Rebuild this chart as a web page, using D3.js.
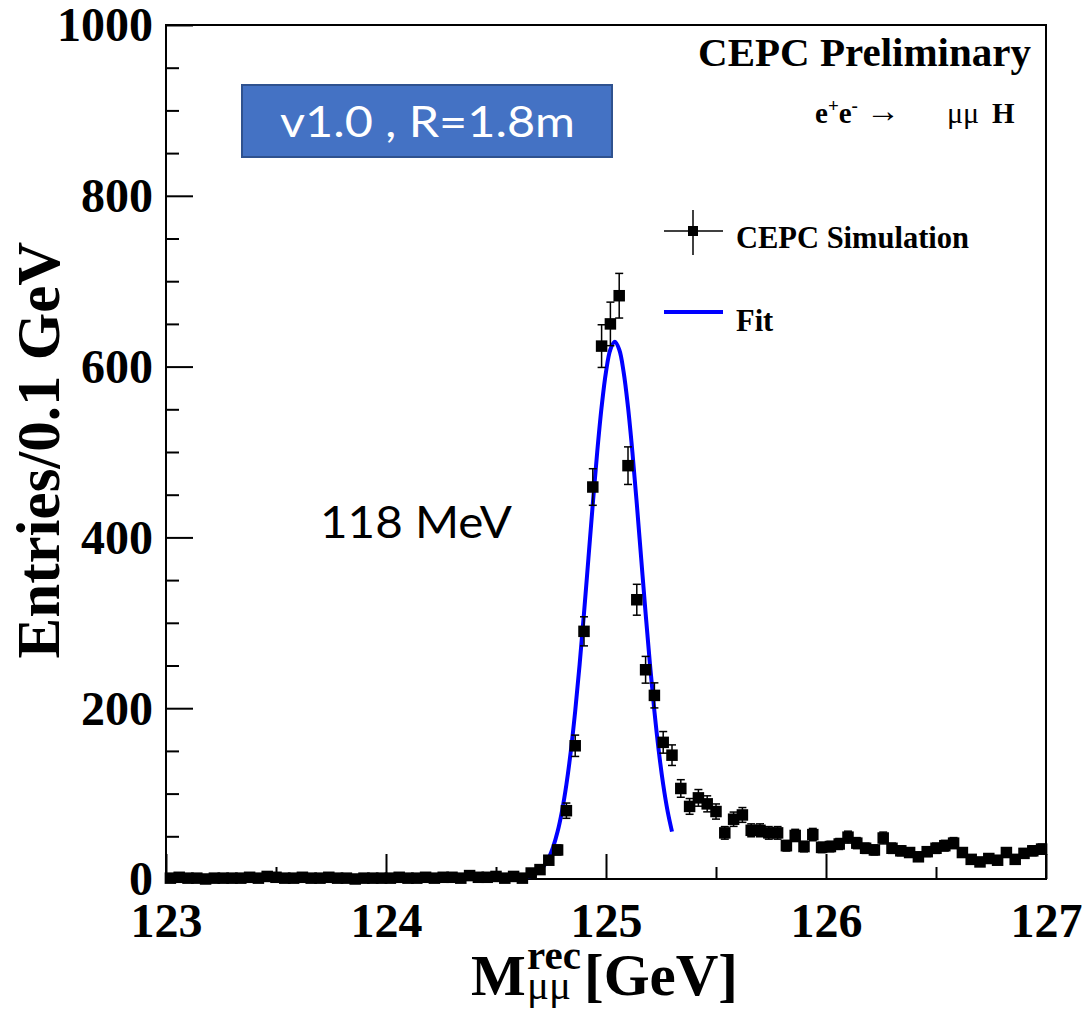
<!DOCTYPE html>
<html>
<head>
<meta charset="UTF-8">
<script src="https://d3js.org/d3.v7.min.js"></script>
<style>
  body { margin: 0; background: #fff; }
  svg { display: block; }
  .serif { font-family: "Liberation Serif", "Times New Roman", serif; font-weight: bold; }
  .sans { font-family: "Lato", "Open Sans", sans-serif; }
</style>
</head>
<body>
<svg id="chart" width="1087" height="1015"></svg>
<script>
// histogram: 100 bins of 0.04 GeV between 123 and 127
const xMin = 123, xMax = 127, binWidth = 0.04;
const entries = [
  1, 2, 1, 1, 0, 1, 1, 1, 1, 2,
  1, 3, 2, 1, 1, 2, 1, 1, 2, 1,
  1, 0, 1, 1, 1, 1, 2, 1, 1, 2,
  1, 2, 2, 1, 4, 2, 2, 3, 1, 3,
  1, 7, 11, 22, 34, 80, 156, 290, 459, 624,
  650, 683, 484, 327, 245, 215, 160, 145, 106, 85,
  95, 88, 79, 54, 70, 75, 57, 57, 54, 54,
  39, 51, 38, 52, 37, 38, 41, 49, 42, 36,
  34, 48, 36, 33, 31, 26, 32, 36, 39, 42,
  31, 23, 20, 24, 22, 31, 23, 30, 33, 35
];

// fit curve
const fitX = [124.60, 124.62, 124.64, 124.66, 124.68, 124.70, 124.72, 124.74, 124.76, 124.78,
              124.80, 124.82, 124.84, 124.86, 124.88, 124.90, 124.92, 124.94, 124.96, 124.98,
              125.00, 125.02, 125.04, 125.06, 125.08, 125.10, 125.12, 125.14, 125.16, 125.18,
              125.20, 125.22, 125.24, 125.26, 125.28, 125.30];
const fitY = [0.6, 1.1, 2.0, 3.5, 6.0, 9.9, 15.9, 24.8, 37.7, 55.5,
              79.5, 110.6, 149.6, 196.6, 250.9, 311.2, 375.1, 439.3, 499.8, 552.6,
              593.9, 620.0, 629.0, 620.0, 593.9, 552.6, 499.8, 439.3, 375.1, 311.2,
              250.9, 196.6, 149.6, 110.6, 79.5, 55.5];

const xTicks = [123, 124, 125, 126, 127];
const xMinorTicks = [123.5, 124.5, 125.5, 126.5];
const yTicks = [0, 200, 400, 600, 800, 1000];
const yMinorTicks = [50, 100, 150, 250, 300, 350, 450, 500, 550, 650, 700, 750, 850, 900, 950];

const margin = {left: 166, top: 25, right: 1046, bottom: 879};

const svg = d3.select("#chart");

const x = d3.scaleLinear().domain([xMin, xMax]).range([margin.left, margin.right]);
const y = d3.scaleLinear().domain([0, 1000]).range([margin.bottom, margin.top]);

// frame
svg.append("rect")
  .attr("x", margin.left).attr("y", margin.top)
  .attr("width", margin.right - margin.left)
  .attr("height", margin.bottom - margin.top)
  .attr("fill", "none").attr("stroke", "#000").attr("stroke-width", 2);

// axes (ticks pointing inward)
const xAxis = svg.append("g")
  .attr("transform", `translate(0,${margin.bottom})`)
  .call(d3.axisBottom(x).tickValues(xTicks).tickSize(-25).tickPadding(24).tickFormat(d3.format("d")));
svg.append("g")
  .attr("transform", `translate(0,${margin.bottom})`)
  .call(d3.axisBottom(x).tickValues(xMinorTicks).tickSize(-12).tickFormat(""))
  .call(g => g.select(".domain").remove());

const yAxis = svg.append("g")
  .attr("transform", `translate(${margin.left},0)`)
  .call(d3.axisLeft(y).tickValues(yTicks).tickSize(-27).tickPadding(13).tickFormat(d3.format("d")));
svg.append("g")
  .attr("transform", `translate(${margin.left},0)`)
  .call(d3.axisLeft(y).tickValues(yMinorTicks).tickSize(-13).tickFormat(""))
  .call(g => g.select(".domain").remove());

[xAxis, yAxis].forEach(g => {
  g.select(".domain").remove();
  g.selectAll(".tick text")
    .attr("class", "serif")
    .style("font-size", "48px")
    .attr("fill", "#000");
});
yAxis.selectAll(".tick text").attr("dy", "0.33em");
svg.selectAll(".tick line").attr("stroke", "#000").attr("stroke-width", 2);

// fit line
const line = d3.line()
  .x((d, i) => x(fitX[i]))
  .y(d => y(d))
  .curve(d3.curveCatmullRom);

svg.append("path")
  .datum(fitY)
  .attr("d", line)
  .attr("fill", "none")
  .attr("stroke", "#0000ff")
  .attr("stroke-width", 4);

// data points with sqrt(N) error bars
const bins = entries.map((v, i) => ({c: xMin + (i + 0.5) * binWidth, v: v, e: Math.sqrt(v)}));

const pts = svg.append("g");
pts.selectAll("line.err")
  .data(bins)
  .enter().append("line")
  .attr("x1", d => x(d.c)).attr("x2", d => x(d.c))
  .attr("y1", d => y(d.v - d.e)).attr("y2", d => y(d.v + d.e))
  .attr("stroke", "#000").attr("stroke-width", 1.5);

["lo", "hi"].forEach(k => {
  pts.selectAll("line.cap" + k)
    .data(bins)
    .enter().append("line")
    .attr("x1", d => x(d.c) - 4).attr("x2", d => x(d.c) + 4)
    .attr("y1", d => y(k === "lo" ? d.v - d.e : d.v + d.e))
    .attr("y2", d => y(k === "lo" ? d.v - d.e : d.v + d.e))
    .attr("stroke", "#000").attr("stroke-width", 1.5);
});

const ms = 11.5;
pts.selectAll("rect")
  .data(bins)
  .enter().append("rect")
  .attr("x", d => x(d.c) - ms / 2)
  .attr("y", d => y(d.v) - ms / 2)
  .attr("width", ms).attr("height", ms)
  .attr("fill", "#000");

// axis titles
svg.append("text")
  .attr("class", "serif")
  .attr("transform", "translate(59,450) rotate(-90)")
  .attr("text-anchor", "middle")
  .style("font-size", "61px")
  .text("Entries/0.1 GeV");

svg.append("text").attr("class", "serif")
  .attr("x", 471).attr("y", 995).style("font-size", "58px")
  .text("M");
svg.append("text").attr("class", "serif")
  .attr("x", 527).attr("y", 969).style("font-size", "41px")
  .text("rec");
svg.append("text").attr("class", "serif")
  .attr("x", 527).attr("y", 999).style("font-size", "41px").style("font-weight", "normal")
  .text("μμ");
svg.append("text").attr("class", "serif")
  .attr("x", 584).attr("y", 995).style("font-size", "59px")
  .text("[GeV]");

// top right labels
svg.append("text").attr("class", "serif")
  .attr("x", 1031).attr("y", 66)
  .attr("text-anchor", "end")
  .style("font-size", "41px")
  .text("CEPC Preliminary");

const proc = svg.append("text").attr("class", "serif").attr("y", 123).style("font-size", "29px");
proc.append("tspan").attr("x", 815).text("e");
proc.append("tspan").attr("dy", -11).style("font-size", "19px").text("+");
proc.append("tspan").attr("dy", 11).text("e");
proc.append("tspan").attr("dy", -11).style("font-size", "19px").text("-");
svg.append("text").attr("class", "serif").attr("x", 866).attr("y", 122)
  .style("font-size", "34px").style("font-weight", "normal").text("→");
svg.append("text").attr("class", "serif").attr("x", 947).attr("y", 123)
  .style("font-size", "30px").style("font-weight", "normal").text("μμ");
svg.append("text").attr("class", "serif").attr("x", 992).attr("y", 123)
  .style("font-size", "29px").text("H");

// legend
const lg = svg.append("g");
lg.append("line").attr("x1", 664).attr("x2", 723).attr("y1", 231).attr("y2", 231)
  .attr("stroke", "#000").attr("stroke-width", 1.5);
lg.append("line").attr("x1", 693).attr("x2", 693).attr("y1", 210).attr("y2", 255)
  .attr("stroke", "#000").attr("stroke-width", 1.5);
lg.append("rect").attr("x", 688).attr("y", 226).attr("width", 10).attr("height", 10).attr("fill", "#000");
lg.append("text").attr("class", "serif").attr("x", 736).attr("y", 248)
  .style("font-size", "30.5px").text("CEPC Simulation");
lg.append("line").attr("x1", 664).attr("x2", 723).attr("y1", 312).attr("y2", 312)
  .attr("stroke", "#0000ff").attr("stroke-width", 4);
lg.append("text").attr("class", "serif").attr("x", 736).attr("y", 331)
  .style("font-size", "30.5px").text("Fit");

// annotation box
svg.append("rect")
  .attr("x", 242).attr("y", 85).attr("width", 370).attr("height", 72)
  .attr("fill", "#4472c4").attr("stroke", "#2f528f").attr("stroke-width", 2);
svg.append("text").attr("class", "sans")
  .attr("x", 280).attr("y", 137)
  .attr("fill", "#fff")
  .attr("textLength", 295).attr("lengthAdjust", "spacingAndGlyphs")
  .style("font-size", "42px")
  .text("v1.0 , R=1.8m");

svg.append("text").attr("class", "sans")
  .attr("x", 320).attr("y", 538)
  .attr("fill", "#000")
  .attr("textLength", 192).attr("lengthAdjust", "spacingAndGlyphs")
  .style("font-size", "44px")
  .text("118 MeV");
</script>
</body>
</html>
